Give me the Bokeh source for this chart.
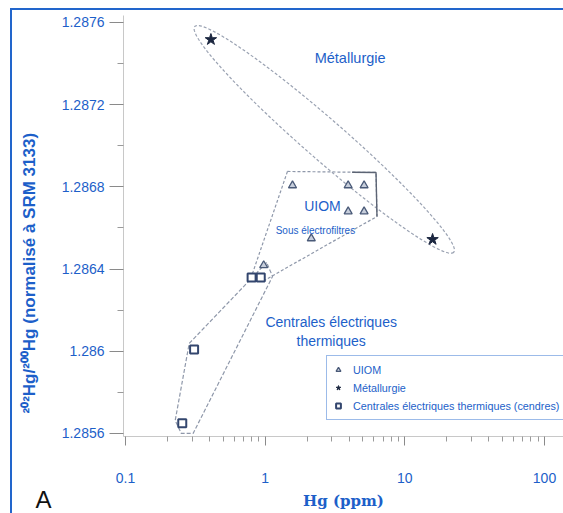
import numpy as np
from bokeh.plotting import figure
from bokeh.models import (Range1d, FixedTicker, Label, Legend, LegendItem,
                          CustomJSTickFormatter)
from bokeh.embed import file_html
from bokeh.resources import INLINE

# ---------------- data ----------------
uiom_hg = [1.57, 3.93, 5.11, 3.93, 5.11, 2.14, 0.976]
uiom_ratio = [1.286807, 1.286807, 1.286807, 1.286680, 1.286680, 1.286549, 1.286418]

metal_hg = [0.409, 15.8]
metal_ratio = [1.287517, 1.286544]

cent_hg = [0.31, 0.255, 0.80, 0.93]
cent_ratio = [1.286009, 1.285649, 1.286359, 1.286359]

x_ticks = [0.1, 1, 10, 100]
x_tick_labels = ["0.1", "1", "10", "100"]
y_ticks = [1.2856, 1.286, 1.2864, 1.2868, 1.2872, 1.2876]
y_tick_labels = ["1.2856", "1.286", "1.2864", "1.2868", "1.2872", "1.2876"]
y_minor = [1.2858, 1.2862, 1.2866, 1.2870, 1.2874]
x_minor = [m * 10.0 ** e for e in (-2, -1, 0, 1, 2) for m in range(2, 10)]

# group outlines (annotation polygons, data coordinates)
uiom_zone_hg = [1.445, 6.22, 6.32, 0.96, 0.776]
uiom_zone_ratio = [1.286875, 1.286870, 1.286656, 1.286340, 1.286340]
cent_zone_hg = [1.025, 0.286, 0.227, 0.251, 0.305, 1.13]
cent_zone_ratio = [1.286432, 1.286038, 1.285663, 1.285600, 1.285600, 1.286364]

BLUE = "#1d5fc9"
SANS = "Liberation Sans"

page_border = ("linear-gradient(#2266cc, #2266cc), linear-gradient(#2266cc, #2266cc)")
p = figure(width=563, height=513, x_axis_type="log",
           x_range=Range1d(0.0968, 136.8), y_range=Range1d(1.285585, 1.287634),
           output_backend="svg", toolbar_location=None,
           min_border_left=122, min_border_right=0,
           min_border_top=15, min_border_bottom=77,
           styles={"background-image": page_border,
                   "background-size": "2px 100%, 100% 2px",
                   "background-position": "10px 8px, 10px 8px",
                   "background-repeat": "no-repeat"})
p.outline_line_color = None
p.grid.visible = False
p.background_fill_color = "white"
p.border_fill_color = None

# ---------- axes ----------
p.xaxis.ticker = FixedTicker(ticks=x_ticks, minor_ticks=x_minor)
p.xaxis.formatter = CustomJSTickFormatter(code="return String(tick)")
p.xaxis.major_label_overrides = dict(zip(x_ticks, x_tick_labels))
p.yaxis.ticker = FixedTicker(ticks=y_ticks, minor_ticks=y_minor)
p.yaxis.formatter = CustomJSTickFormatter(code="return String(tick)")
p.yaxis.major_label_overrides = dict(zip(y_ticks, y_tick_labels))

for ax in (p.xaxis[0], p.yaxis[0]):
    ax.axis_line_color = "#c8c8c8"
    ax.major_tick_line_color = "#8a8a8a"
    ax.minor_tick_line_color = "#9a9a9a"
    ax.major_tick_in = 0
    ax.minor_tick_in = 0
    ax.major_label_text_font = SANS
    ax.major_label_text_font_size = "14px"
    ax.major_label_text_color = BLUE
    ax.axis_label_text_color = BLUE
    ax.axis_label_text_font_style = "bold"

p.xaxis.major_tick_out = 9
p.xaxis.minor_tick_out = 5
p.xaxis.major_label_standoff = 27
p.xaxis.axis_label = "Hg (ppm)"
p.xaxis.axis_label_text_font = "DejaVu Serif"
p.xaxis.axis_label_text_font_size = "15px"
p.xaxis.axis_label_standoff = 6

p.yaxis.major_tick_out = 14
p.yaxis.minor_tick_out = 6
p.yaxis.major_label_standoff = 5
# trailing no-break spaces push the title down along the axis
p.yaxis.axis_label = "²⁰²Hg/²⁰⁰Hg (normalisé à SRM 3133)" + "\u00a0" * 20
p.yaxis.axis_label_text_font = SANS
p.yaxis.axis_label_text_font_size = "17px"
p.yaxis.axis_label_standoff = 20

# ---------- group outlines ----------
DEC_PX = 140.0      # approx. screen pixels per decade on x
Y_PX = 205500.0     # approx. screen pixels per unit on y
t = np.linspace(0, 2 * np.pi, 200)
a_px, b_px, ang = 172.0, 20.0, np.deg2rad(41.0)
cx, cy = 2.65, 1.287031
du = a_px * np.cos(t) * np.cos(ang) - b_px * np.sin(t) * np.sin(ang)
dv = a_px * np.cos(t) * np.sin(ang) + b_px * np.sin(t) * np.cos(ang)
ell_x = cx * 10 ** (du / DEC_PX)
ell_y = cy - dv / Y_PX
p.patch(ell_x, ell_y, fill_color=None, line_color="#9aa2b2", line_width=1.2,
        line_dash="3 2")

p.patch(uiom_zone_hg, uiom_zone_ratio, fill_color=None, line_color="#8f98aa",
        line_width=1.2, line_dash="3 2")
lx0, lx1 = np.log10(uiom_zone_hg[0]), np.log10(uiom_zone_hg[1])
brk_x = [10 ** (lx0 + 0.73 * (lx1 - lx0)), uiom_zone_hg[1], uiom_zone_hg[2]]
brk_y = [uiom_zone_ratio[0] + 0.73 * (uiom_zone_ratio[1] - uiom_zone_ratio[0]),
         uiom_zone_ratio[1], uiom_zone_ratio[2]]
p.line(brk_x, brk_y, line_color="#5c6474", line_width=1.4)

p.patch(cent_zone_hg, cent_zone_ratio, fill_color=None, line_color="#8f98aa",
        line_width=1.2, line_dash="4 2")

# ---------- points ----------
r_uiom = p.scatter(uiom_hg, uiom_ratio, marker="triangle", size=8,
                   fill_color="#c7cedb", line_color="#4a5a78", line_width=1.3)
r_metal = p.scatter(metal_hg, metal_ratio, marker="star", size=12,
                    fill_color="#1c2740", line_color="#1c2740")
r_cent = p.scatter(cent_hg, cent_ratio, marker="square", size=8,
                   fill_color="white", line_color="#33466e", line_width=2)

# ---------- in-plot labels ----------
def lab(x, y, text, size):
    p.add_layout(Label(x=x, y=y, text=text, text_font=SANS,
                       text_font_size=size, text_color=BLUE,
                       text_align="center", text_baseline="middle"))

lab(4.06, 1.287425, "Métallurgie", "14.5px")
lab(2.57, 1.286705, "UIOM", "14px")
lab(2.29, 1.286588, "Sous électrofiltres", "10px")
lab(2.97, 1.286140, "Centrales électriques", "14px")
lab(2.97, 1.286048, "thermiques", "14px")

# panel letter, placed in the left side panel so it is not clipped
p.add_layout(Label(x=35, y=-76, x_units="screen", y_units="screen",
                   text="A", text_font=SANS, text_font_size="24px",
                   text_color="#111111", text_align="left",
                   text_baseline="bottom"), "left")

# ---------- legend ----------
legend = Legend(items=[LegendItem(label="UIOM", renderers=[r_uiom]),
                       LegendItem(label="Métallurgie", renderers=[r_metal]),
                       LegendItem(label="Centrales électriques thermiques (cendres)",
                                  renderers=[r_cent])],
                location=(203, 16))
legend.border_line_color = "#3a78d4"
legend.border_line_width = 1.5
legend.background_fill_color = "white"
legend.background_fill_alpha = 1
legend.label_text_font = SANS
legend.label_text_font_size = "10.8px"
legend.label_text_color = BLUE
legend.glyph_width = 12
legend.glyph_height = 17
legend.label_height = 17
legend.spacing = 1
legend.padding = 5
legend.margin = 0
legend.label_standoff = 9
p.add_layout(legend)

open("out.html", "w").write(file_html(p, INLINE))
